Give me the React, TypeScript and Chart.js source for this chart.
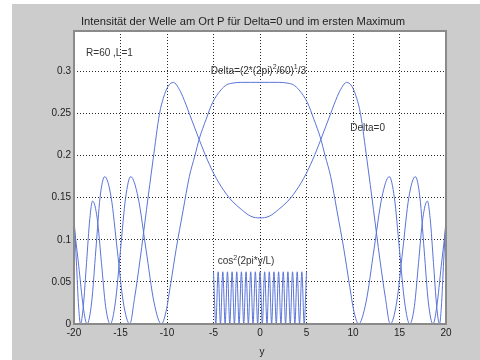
import React, { useEffect, useRef } from "react";
import { Chart, registerables } from "chart.js";
Chart.register(...registerables);

// Curve "Delta=0"
const deltaZeroX = [-20, -19.5, -19, -18.6, -18.1, -17.65, -17.2, -16.7, -16, -15.35, -14.7, -14, -13.5, -12.9, -12.2, -11.5, -10.8, -10.4, -9.9, -9.3, -8.8, -8.3, -7.6, -6.5, -5.7, -4.7, -3.6, -3, -2, -1, 0, 1, 2, 3, 3.6, 4.7, 5.7, 6.5, 7.6, 8.3, 8.8, 9.3, 9.9, 10.4, 10.8, 11.5, 12.2, 12.9, 13.5, 14, 14.7, 15.35, 16, 16.7, 17.2, 17.65, 18.1, 18.6, 19, 19.5, 20];
const deltaZeroY = [0.118, 0.07, 0.02, 0, 0.026, 0.088, 0.15, 0.175, 0.15, 0.088, 0.026, 0, 0.03, 0.076, 0.136, 0.195, 0.25, 0.268, 0.282, 0.287, 0.281, 0.27, 0.25, 0.218, 0.196, 0.173, 0.154, 0.146, 0.136, 0.128, 0.126, 0.128, 0.136, 0.146, 0.154, 0.173, 0.196, 0.218, 0.25, 0.27, 0.281, 0.287, 0.282, 0.268, 0.25, 0.195, 0.136, 0.076, 0.03, 0, 0.026, 0.088, 0.15, 0.175, 0.15, 0.088, 0.026, 0, 0.02, 0.07, 0.118];

// Curve "Delta=(2*(2pi)^2/60)^1/3"
const deltaMaxX = [-20, -19.75, -19.5, -19.3, -19, -18.65, -18.3, -18, -17.5, -17.05, -16.6, -16.1, -15.55, -15, -14.45, -13.9, -13.1, -12.25, -11.4, -10.6, -10.1, -9.6, -9, -8.3, -7.6, -7, -6.5, -5.8, -5.1, -4.2, -3.6, -3, -2, -1, 0, 1, 2, 3, 3.6, 4.2, 5.1, 5.8, 6.5, 7, 7.6, 8.3, 9, 9.6, 10.1, 10.6, 11.4, 12.25, 13.1, 13.9, 14.45, 15, 15.55, 16.1, 16.6, 17.05, 17.5, 18, 18.3, 18.65, 19, 19.3, 19.5, 19.75, 20];
const deltaMaxY = [0.128, 0.075, 0.02, 0, 0.021, 0.073, 0.125, 0.146, 0.125, 0.073, 0.021, 0, 0.026, 0.088, 0.15, 0.175, 0.15, 0.088, 0.026, 0, 0.015, 0.048, 0.09, 0.133, 0.175, 0.2, 0.221, 0.243, 0.263, 0.278, 0.284, 0.286, 0.287, 0.287, 0.287, 0.287, 0.287, 0.286, 0.284, 0.278, 0.263, 0.243, 0.221, 0.2, 0.175, 0.133, 0.09, 0.048, 0.015, 0, 0.026, 0.088, 0.15, 0.175, 0.15, 0.088, 0.026, 0, 0.021, 0.073, 0.125, 0.146, 0.125, 0.073, 0.021, 0, 0.02, 0.075, 0.128];

// Curve cos^2(2pi*y/L), scaled
const cosX = [-5, -4.75, -4.5, -4.25, -4, -3.75, -3.5, -3.25, -3, -2.75, -2.5, -2.25, -2, -1.75, -1.5, -1.25, -1, -0.75, -0.5, -0.25, 0, 0.25, 0.5, 0.75, 1, 1.25, 1.5, 1.75, 2, 2.25, 2.5, 2.75, 3, 3.25, 3.5, 3.75, 4, 4.25, 4.5, 4.75, 5];
const cosY = [0.062, 0, 0.062, 0, 0.062, 0, 0.062, 0, 0.062, 0, 0.062, 0, 0.062, 0, 0.062, 0, 0.062, 0, 0.062, 0, 0.062, 0, 0.062, 0, 0.062, 0, 0.062, 0, 0.062, 0, 0.062, 0, 0.062, 0, 0.062, 0, 0.062, 0, 0.062, 0, 0.062];

const xMin = -20;
const xMax = 20;
const xStep = 5;
const yMin = 0;
const yMax = 0.348;
const yStep = 0.05;
const yTickTop = 0.3;

const titleText = "Intensität der Welle am Ort P für Delta=0 und im ersten Maximum";
const xLabel = "y";

const FONT = '"Liberation Sans", Arial, sans-serif';
const LINE = "#5a74d8";
const TXT = "#222222";

type Part = { t: string; sup?: boolean };

function drawRich(ctx: CanvasRenderingContext2D, parts: Part[], x: number, y: number) {
  let cx = x;
  ctx.textBaseline = "middle";
  ctx.textAlign = "left";
  for (const p of parts) {
    if (p.sup) {
      ctx.font = `7px ${FONT}`;
      ctx.fillText(p.t, cx, y - 4);
    } else {
      ctx.font = `10px ${FONT}`;
      ctx.fillText(p.t, cx, y);
    }
    cx += ctx.measureText(p.t).width;
  }
}

export default function App() {
  const ref = useRef<HTMLCanvasElement>(null);
  useEffect(() => {
    const canvas = ref.current!;
    const toPts = (xs: number[], ys: number[]) => xs.map((x, i) => ({ x, y: ys[i] }));

    const decor = {
      id: "decor",
      beforeDraw(chart: any) {
        const { ctx, chartArea: a } = chart;
        ctx.save();
        ctx.fillStyle = "#ffffff";
        ctx.fillRect(0, 0, 480, 360);
        ctx.fillStyle = "#cccccc";
        ctx.fillRect(12, 4, 468, 356);
        ctx.fillStyle = "#ffffff";
        ctx.fillRect(a.left, a.top, a.right - a.left, a.bottom - a.top);
        ctx.restore();
      },
      afterDraw(chart: any) {
        const { ctx, chartArea: a } = chart;
        const xs = chart.scales.x;
        const ys = chart.scales.y;
        ctx.save();
        // axes box
        ctx.strokeStyle = "#8a8a8a";
        ctx.lineWidth = 2;
        ctx.strokeRect(a.left, a.top, a.right - a.left, a.bottom - a.top);
        ctx.fillStyle = TXT;
        // title fitted to width
        ctx.font = `10px ${FONT}`;
        const w = ctx.measureText(titleText).width;
        const size = (10 * 324) / w;
        ctx.font = `${size.toFixed(2)}px ${FONT}`;
        ctx.textAlign = "left";
        ctx.textBaseline = "middle";
        ctx.fillText(titleText, 81, a.top - 9);
        // axis label
        ctx.font = `10px ${FONT}`;
        ctx.textAlign = "center";
        ctx.fillText(xLabel, (a.left + a.right) / 2 + 2, 352);
        // annotations
        ctx.fillStyle = "#333333";
        drawRich(ctx, [{ t: "R=60 ,L=1" }], xs.getPixelForValue(-18.7), ys.getPixelForValue(0.321));
        drawRich(
          ctx,
          [{ t: "Delta=(2*(2pi)" }, { t: "2", sup: true }, { t: "/60)" }, { t: "1", sup: true }, { t: "/3" }],
          xs.getPixelForValue(-5.3),
          ys.getPixelForValue(0.3)
        );
        drawRich(ctx, [{ t: "Delta=0" }], xs.getPixelForValue(9.7), ys.getPixelForValue(0.232));
        drawRich(ctx, [{ t: "cos" }, { t: "2", sup: true }, { t: "(2pi*y/L)" }], xs.getPixelForValue(-4.55), ys.getPixelForValue(0.074));
        ctx.restore();
      },
    };

    const ds = (data: { x: number; y: number }[]) => ({
      data,
      borderColor: LINE,
      borderWidth: 1,
      pointRadius: 0,
      fill: false,
      cubicInterpolationMode: "monotone" as const,
    });

    const chart = new Chart(canvas, {
      type: "line",
      data: {
        datasets: [
          ds(toPts(deltaZeroX, deltaZeroY)),
          ds(toPts(deltaMaxX, deltaMaxY)),
          ds(toPts(cosX, cosY)),
        ],
      },
      options: {
        animation: false,
        responsive: false,
        devicePixelRatio: 1,
        layout: { padding: { left: 0, top: 31, right: 34, bottom: 0 } },
        plugins: { legend: { display: false }, tooltip: { enabled: false }, title: { display: false } },
        scales: {
          x: {
            type: "linear",
            min: xMin,
            max: xMax,
            ticks: { stepSize: xStep, color: TXT, font: { family: FONT, size: 10 }, padding: 3, maxRotation: 0 },
            grid: { color: "rgba(0,0,0,0.85)", drawTicks: false, lineWidth: 1 },
            border: { display: false, dash: [1, 2] },
            afterFit: (s: any) => {
              s.height = 36;
            },
          },
          y: {
            type: "linear",
            min: yMin,
            max: yMax,
            ticks: {
              stepSize: yStep,
              color: TXT,
              font: { family: FONT, size: 10 },
              padding: 3,
              callback: (v: any) => String(Number(Number(v).toFixed(2))),
            },
            grid: { color: "rgba(0,0,0,0.85)", drawTicks: false, lineWidth: 1 },
            border: { display: false, dash: [1, 2] },
            afterBuildTicks: (s: any) => {
              s.ticks = s.ticks.filter((t: any) => t.value <= yTickTop + 1e-6);
            },
            afterFit: (s: any) => {
              s.width = 74;
            },
          },
        },
      } as any,
      plugins: [decor],
    });
    return () => chart.destroy();
  }, []);
  return (
    <div style={{ position: "fixed", left: 0, top: 0, width: 480, height: 360 }}>
      <canvas ref={ref} width={480} height={360} style={{ width: 480, height: 360, display: "block" }} />
    </div>
  );
}
